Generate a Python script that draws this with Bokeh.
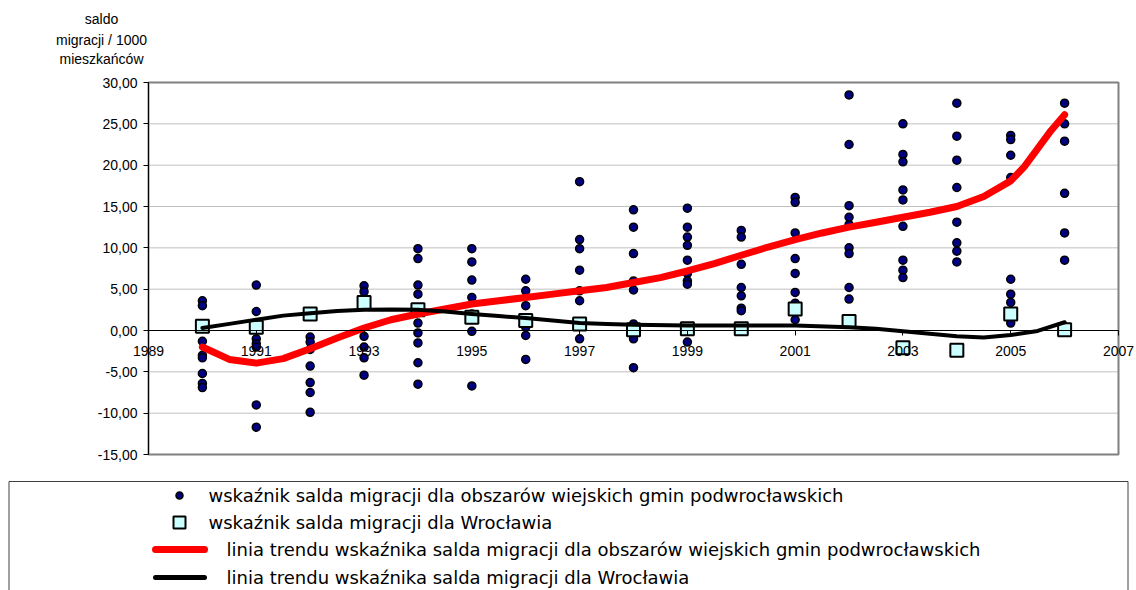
from bokeh.plotting import figure
from bokeh.models import Range1d, FixedTicker, CustomJSTickFormatter
from bokeh.core.properties import value
from bokeh.embed import file_html
from bokeh.resources import INLINE

# ---------------- data ----------------
years = list(range(1990, 2007))

# rural communes around Wroclaw (one list per year)
r1990 = [3.6, 3.0, -1.3, -3.0, -3.3, -5.2, -6.4, -6.9]
r1991 = [5.5, 2.3, -1.0, -1.6, -2.0, -9.0, -11.7]
r1992 = [-0.8, -1.4, -2.3, -4.3, -6.3, -7.5, -9.9]
r1993 = [5.4, 4.7, -0.7, -2.0, -3.3, -5.4]
r1994 = [9.9, 8.7, 5.5, 4.4, 0.9, -0.3, -1.5, -3.9, -6.5]
r1995 = [9.9, 8.3, 6.1, 4.0, 2.0, -0.1, -6.7]
r1996 = [6.2, 4.8, 3.0, 1.5, 0.4, -0.6, -3.5]
r1997 = [18.0, 11.0, 9.9, 7.3, 4.8, 3.6, -1.0]
r1998 = [14.6, 12.5, 9.3, 6.0, 4.9, 0.8, -1.0, -4.5]
r1999 = [14.8, 12.5, 11.3, 10.3, 8.5, 6.9, 6.0, 5.6, -1.4]
r2000 = [12.1, 11.3, 8.0, 5.2, 4.2, 2.7, 2.4]
r2001 = [16.1, 15.5, 11.8, 8.7, 6.9, 4.6, 3.3, 1.3]
r2002 = [28.5, 22.5, 15.1, 13.7, 12.8, 10.0, 9.3, 5.2, 3.8]
r2003 = [25.0, 21.3, 20.4, 17.0, 15.8, 12.6, 8.5, 7.3, 6.4]
r2004 = [27.5, 23.5, 20.6, 17.3, 13.1, 10.6, 9.6, 8.3]
r2005 = [23.6, 23.1, 21.2, 18.5, 6.2, 4.4, 3.4, 0.9]
r2006 = [27.5, 25.0, 22.9, 16.6, 11.8, 8.5]
rural_by_year = [r1990, r1991, r1992, r1993, r1994, r1995, r1996, r1997, r1998,
                 r1999, r2000, r2001, r2002, r2003, r2004, r2005, r2006]

# Wroclaw
wroclaw = [0.5, 0.4, 2.0, 3.4, 2.5, 1.6, 1.2, 0.8, 0.1, 0.2, 0.2, 2.6, 1.1, -2.1, -2.4, 2.0, 0.1]

# trend lines
trend_red_x = [1990, 1990.5, 1991, 1991.5, 1992, 1992.5, 1993, 1993.5, 1994, 1994.5, 1995, 1995.5,
               1996, 1996.5, 1997, 1997.5, 1998, 1998.5, 1999, 1999.5, 2000, 2000.5, 2001, 2001.5,
               2002, 2002.5, 2003, 2003.5, 2004, 2004.5, 2005, 2005.25, 2005.5, 2005.75, 2006]
trend_red_y = [-2.0, -3.5, -3.95, -3.4, -2.2, -0.9, 0.3, 1.3, 2.0, 2.6, 3.2, 3.6,
               4.0, 4.4, 4.8, 5.2, 5.8, 6.4, 7.2, 8.1, 9.1, 10.1, 11.0, 11.8,
               12.5, 13.1, 13.7, 14.3, 15.0, 16.2, 18.1, 19.8, 22.0, 24.2, 26.1]
trend_black_x = [1990, 1990.5, 1991, 1991.5, 1992, 1992.5, 1993, 1993.5, 1994, 1994.5, 1995, 1995.5,
                 1996, 1996.5, 1997, 1997.5, 1998, 1999, 2000, 2001, 2002, 2002.5, 2003, 2003.5,
                 2004, 2004.5, 2005, 2005.5, 2006]
trend_black_y = [0.3, 0.8, 1.3, 1.8, 2.1, 2.35, 2.5, 2.55, 2.5, 2.3, 2.0, 1.75,
                 1.5, 1.2, 0.9, 0.8, 0.7, 0.6, 0.6, 0.6, 0.4, 0.2, -0.1, -0.4,
                 -0.7, -0.85, -0.55, -0.05, 1.0]

x_min, x_max = 1989, 2007
y_min, y_max = -15, 30
x_ticks = list(range(1989, 2008, 2))
y_ticks = list(range(-15, 31, 5))
y_title_lines = ["saldo", "migracji / 1000", "mieszkańców"]
legend_labels = [
    "wskaźnik salda migracji dla obszarów wiejskich gmin podwrocławskich",
    "wskaźnik salda migracji dla Wrocławia",
    "linia trendu wskaźnika salda migracji dla obszarów wiejskich gmin podwrocławskich",
    "linia trendu wskaźnika salda migracji dla Wrocławia",
]

# flatten rural points
rx, ry = [], []
for yr, vals in zip(years, rural_by_year):
    for v in vals:
        rx.append(yr)
        ry.append(v)

# ---------------- layout (canvas pixels) ----------------
W, H = 1136, 590
PLOT_L, PLOT_R = 148, 1118     # canvas x of x_min / x_max
PLOT_T, PLOT_B = 82, 454       # canvas y of y_max / y_min
ppx = (PLOT_R - PLOT_L) / (x_max - x_min)
ppy = (PLOT_B - PLOT_T) / (y_max - y_min)
xs0 = x_min - PLOT_L / ppx
xs1 = x_max + (W - PLOT_R) / ppx
ys1 = y_max + PLOT_T / ppy
ys0 = y_min - (H - PLOT_B) / ppy


def dx(px):
    return xs0 + px / ppx


def dy(py):
    return ys1 - py / ppy


FONT = "Liberation Sans"

p = figure(width=W, height=H, output_backend="svg", toolbar_location=None,
           x_range=Range1d(xs0, xs1), y_range=Range1d(ys0, ys1), min_border=0)
p.outline_line_color = None
p.background_fill_color = "white"
p.border_fill_color = "white"
p.xgrid.grid_line_color = None
p.ygrid.grid_line_color = None

# plot area background
p.quad(left=[x_min], right=[x_max], top=[y_max], bottom=[y_min], fill_color="white", line_color=None)
# horizontal gridlines
p.segment(x0=[x_min] * len(y_ticks), x1=[x_max] * len(y_ticks), y0=y_ticks, y1=y_ticks,
          line_color="#c0c0c0", line_width=1)
# plot area border
p.quad(left=[x_min], right=[x_max], top=[y_max], bottom=[y_min], fill_color=None,
       line_color="#808080", line_width=2)

# axes placed inside the big frame
p.xaxis.fixed_location = 0
p.xaxis.bounds = (x_min, x_max)
p.xaxis.ticker = FixedTicker(ticks=x_ticks)
p.xaxis.major_tick_in = 0
p.xaxis.major_tick_out = 5
p.xaxis.minor_tick_line_color = None
p.xaxis.major_label_standoff = 10
p.xaxis.axis_line_color = "black"
p.xaxis.major_tick_line_color = "black"
p.xaxis.major_label_text_font = FONT
p.xaxis.major_label_text_font_size = "14px"
p.xaxis.major_label_text_color = "black"

p.yaxis.fixed_location = x_min
p.yaxis.bounds = (y_min, y_max)
p.yaxis.ticker = FixedTicker(ticks=y_ticks)
p.yaxis.formatter = CustomJSTickFormatter(code="return tick.toFixed(2).replace('.', ',');")
p.yaxis.major_tick_in = 0
p.yaxis.major_tick_out = 5
p.yaxis.minor_tick_line_color = None
p.yaxis.major_label_standoff = 6
p.yaxis.axis_line_color = "black"
p.yaxis.major_tick_line_color = "black"
p.yaxis.major_label_text_font = FONT
p.yaxis.major_label_text_font_size = "14px"
p.yaxis.major_label_text_color = "black"

# data
p.scatter(rx, ry, marker="circle", size=8, fill_color="#000080", line_color="black", line_width=1.5)
p.scatter(years, wroclaw, marker="square", size=13, fill_color="#ccffff", line_color="black", line_width=2)
p.line(trend_red_x, trend_red_y, line_color="#ff0000", line_width=7, line_cap="round", line_join="round")
p.line(trend_black_x, trend_black_y, line_color="black", line_width=4, line_cap="round", line_join="round")

# value-axis title (Excel style, above the axis)
p.text(x=[dx(101)] * 3, y=[dy(18), dy(39), dy(58)], text=y_title_lines,
       text_font=value(FONT), text_font_size=value("14px"), text_align="center",
       text_baseline="middle", text_color="black")

# legend box and entries
p.quad(left=[dx(8.5)], right=[dx(1127.5)], top=[dy(481)], bottom=[dy(H + 50)], fill_color=None,
       line_color="#404040", line_width=1)
row_y = [495, 522, 549, 577]
p.scatter([dx(179)], [dy(row_y[0])], marker="circle", size=7, fill_color="#000080",
          line_color="black", line_width=1.5)
p.scatter([dx(179)], [dy(row_y[1])], marker="square", size=12, fill_color="#ccffff",
          line_color="black", line_width=2)
p.line([dx(155), dx(204)], [dy(row_y[2])] * 2, line_color="#ff0000", line_width=7, line_cap="round")
p.line([dx(155), dx(204)], [dy(row_y[3])] * 2, line_color="black", line_width=5, line_cap="round")
p.text(x=[dx(208), dx(208), dx(226), dx(226)], y=[dy(v) for v in row_y], text=legend_labels,
       text_font=value("DejaVu Sans"), text_font_size=value("18px"),
       text_baseline="middle", text_align="left", text_color="black")

open("out.html", "w").write(file_html(p, INLINE))
